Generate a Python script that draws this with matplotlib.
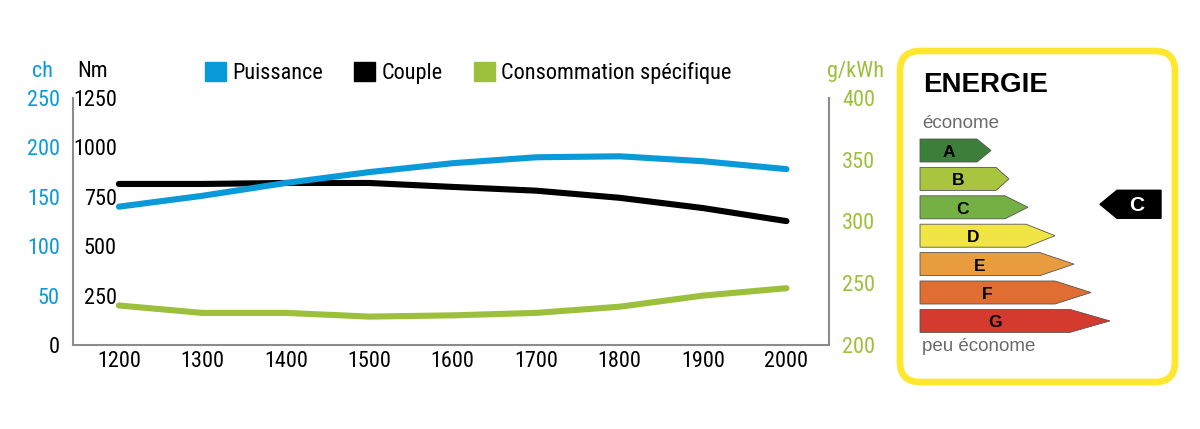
import matplotlib
matplotlib.use("Agg")
import matplotlib.pyplot as plt
from matplotlib.patches import Patch, Polygon, FancyBboxPatch
from matplotlib import font_manager

# --- data ---
regime = [1200, 1300, 1400, 1500, 1600, 1700, 1800, 1900, 2000]
puissance = [140, 151, 164, 175, 184, 190, 191, 186, 178]        # ch
couple = [815, 815, 820, 820, 800, 781, 745, 693, 627]           # Nm
conso = [232, 226, 226, 223, 224, 226, 231, 240, 246]            # g/kWh

ch_ticks = [0, 50, 100, 150, 200, 250]
nm_ticks = [250, 500, 750, 1000, 1250]
g_ticks = [200, 250, 300, 350, 400]

classes = ["A", "B", "C", "D", "E", "F", "G"]
class_colors = ["#3c7f3a", "#a9c53f", "#74b043", "#f0e545", "#e99c3d", "#e06d31", "#d53a2f"]
classe_vehicule = "C"

BLUE = "#0b9ad9"
GREEN = "#9cc03b"
GRAY = "#8c8c8c"
ARIAL = ["Liberation Sans", "DejaVu Sans"]

# the chart uses a narrow sans; take one if there is any, else shrink Liberation Sans
narrow = None
for fam in ["Liberation Sans Narrow", "Arial Narrow", "Roboto Condensed", "Noto Sans Condensed",
            "Open Sans Condensed", "DejaVu Sans Condensed"]:
    try:
        font_manager.findfont(font_manager.FontProperties(family=fam), fallback_to_default=False)
        narrow = fam
        break
    except ValueError:
        pass
if narrow:
    plt.rcParams["font.family"] = [narrow, "Liberation Sans", "DejaVu Sans"]
    FS = 16
else:
    plt.rcParams["font.family"] = ARIAL
    FS = 15

W, H = 1200, 429
fig = plt.figure(figsize=(W / 100, H / 100), dpi=100)

# axes rectangle in pixels: left 73, right 829, top 98, bottom 345
rect = [73 / W, (H - 345) / H, (829 - 73) / W, (345 - 98) / H]
ax_nm = fig.add_axes(rect)
ax_ch = fig.add_axes(rect, sharex=ax_nm)
ax_ch.set_facecolor("none")
ax_g = ax_nm.twinx()

ax_nm.set_xlim(1145, 2051)
ax_nm.set_ylim(0, 1250)
ax_ch.set_ylim(0, 250)
ax_g.set_ylim(200, 400)

ax_ch.plot(regime, puissance, color=BLUE, lw=4.4, solid_capstyle="round", label="Puissance")
ax_nm.plot(regime, couple, color="black", lw=4.4, solid_capstyle="round", label="Couple")
ax_g.plot(regime, conso, color=GREEN, lw=4.4, solid_capstyle="round", label="Consommation spécifique")

for a in (ax_nm, ax_ch, ax_g):
    for s in a.spines.values():
        s.set_visible(False)

ax_nm.spines["left"].set_visible(True)
ax_nm.spines["bottom"].set_visible(True)
ax_g.spines["right"].set_visible(True)
for s in (ax_nm.spines["left"], ax_nm.spines["bottom"], ax_g.spines["right"]):
    s.set_color(GRAY)
    s.set_linewidth(1.5)

# x axis
ax_nm.set_xticks(regime)
ax_nm.tick_params(axis="x", length=0, pad=4, labelsize=FS)
ax_ch.tick_params(axis="x", length=0, labelbottom=False)

# Nm labels, inside the frame
ax_nm.set_yticks(nm_ticks)
ax_nm.tick_params(axis="y", length=0, pad=-31.5, labelsize=FS, labelcolor="black")

# ch labels, blue, outside the frame
ax_ch.set_yticks(ch_ticks)
ax_ch.tick_params(axis="y", length=0, pad=9.5, labelsize=FS, labelcolor=BLUE)
ax_ch.get_yticklabels()[0].set_color("black")

# g/kWh labels on the right
ax_g.set_yticks(g_ticks)
ax_g.set_yticks([200], minor=True)
ax_g.tick_params(axis="y", which="major", length=0, pad=9.5, labelsize=FS, labelcolor=GREEN)
ax_g.tick_params(axis="y", which="minor", length=8, width=1.5, color=GRAY, direction="out")

fig.text(42 / W, 1 - 77 / H, "ch", color=BLUE, fontsize=FS, ha="center", va="baseline")
fig.text(93 / W, 1 - 77 / H, "Nm", color="black", fontsize=FS, ha="center", va="baseline")
fig.text(856 / W, 1 - 77 / H, "g/kWh", color=GREEN, fontsize=FS, ha="center", va="baseline")

handles = [Patch(color=BLUE, label="Puissance"),
           Patch(color="black", label="Couple"),
           Patch(color=GREEN, label="Consommation spécifique")]
fig.legend(handles=handles, loc="center", bbox_to_anchor=(468 / W, 1 - 73 / H), ncol=3,
           frameon=False, fontsize=FS, handlelength=0.95, handleheight=0.95,
           handletextpad=0.28, columnspacing=1.4, borderpad=0)

# --- energy label panel, drawn in pixel coordinates ---
ax_p = fig.add_axes([0, 0, 1, 1], zorder=-1)
ax_p.set_xlim(0, W)
ax_p.set_ylim(H, 0)
ax_p.axis("off")

ax_p.add_patch(FancyBboxPatch((900, 51), 275, 331, boxstyle="round,pad=0,rounding_size=20",
                              facecolor="white", edgecolor="#ffe72f", lw=4.8))
ax_p.text(923, 92, "ENERGIE", fontsize=20, fontweight="bold", family=ARIAL,
          ha="left", va="baseline")
ax_p.text(922, 128, "économe", fontsize=13.5, color="#6b6b6b", family=ARIAL,
          ha="left", va="baseline")
ax_p.text(922, 351, "peu économe", fontsize=13.5, color="#6b6b6b", family=ARIAL,
          ha="left", va="baseline")

body_end = [977, 996, 1005, 1026, 1040, 1055, 1070]
tip_end = [991, 1009, 1028, 1055, 1074, 1091, 1110]
x0 = 920
for i, (lettre, col) in enumerate(zip(classes, class_colors)):
    top = 139 + 28.4 * i
    bot = top + 23
    mid = (top + bot) / 2
    ax_p.add_patch(Polygon([(x0, top), (body_end[i], top), (tip_end[i], mid), (body_end[i], bot), (x0, bot)],
                           closed=True, facecolor=col, edgecolor="#555555", lw=0.6))
    ax_p.text((x0 + body_end[i]) / 2, mid + 2, lettre, fontsize=12.5, fontweight="bold",
              family=ARIAL, ha="center", va="center")

k = classes.index(classe_vehicule)
ymid = 139 + 28.4 * k + 11.5 - 3
ax_p.add_patch(Polygon([(1100, ymid), (1117, ymid - 14), (1161, ymid - 14), (1161, ymid + 14), (1117, ymid + 14)],
                       closed=True, facecolor="black", edgecolor="black"))
ax_p.text(1137, ymid + 1, classe_vehicule, fontsize=15, fontweight="bold", color="white",
          family=ARIAL, ha="center", va="center")

fig.savefig("out.png", dpi=100, facecolor="white")
